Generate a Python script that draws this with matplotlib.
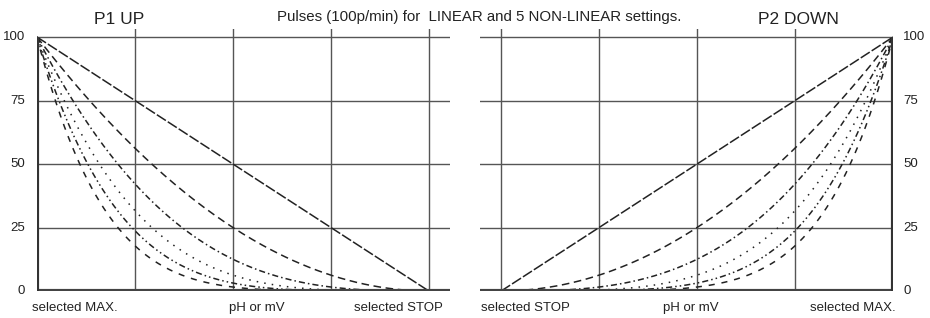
import numpy as np
import matplotlib
matplotlib.use("Agg")
import matplotlib.pyplot as plt

plt.rcParams['font.family'] = ['Liberation Sans', 'DejaVu Sans']

# Dados: posição relativa entre "selected MAX." e "selected STOP"
x = np.linspace(0, 1, 201)
exponents = [1, 2, 3, 4, 5, 6]     # 1 = LINEAR, 2..6 = NON-LINEAR
yticks = [0, 25, 50, 75, 100]
xgrid = [0.25, 0.5, 0.75, 1.0]
left_labels = ["selected MAX.", "pH or mV", "selected STOP"]
right_labels = ["selected STOP", "pH or mV", "selected MAX."]

styles = [
    (0, (7, 1.5)),
    (0, (5, 3)),
    (0, (4, 2, 1, 2)),
    (0, (1, 4)),
    (0, (4, 2, 1, 2, 1, 2)),
    (0, (4, 4.5)),
]

W, H = 930, 318
fig = plt.figure(figsize=(W / 100, H / 100), dpi=100)

def px_axes(l, r, b, t):
    return fig.add_axes([l / W, 1 - b / H, (r - l) / W, (b - t) / H])

axL = px_axes(37, 450, 291, 29.4)
axR = px_axes(480, 893, 291, 29.4)

for ax in (axL, axR):
    ax.set_ylim(0, 103)
    for s in ax.spines.values():
        s.set_visible(False)
    ax.set_xticks([])
    ax.set_yticks([])
    for yv in yticks[1:]:
        ax.axhline(yv, color='#555', lw=1, zorder=1)
    ax.axhline(0, color='#444', lw=3, zorder=3)

# Painel esquerdo: P1 UP
axL.set_xlim(0, 1.054)
for xv in xgrid:
    axL.axvline(xv, color='#555', lw=1, zorder=1)
axL.plot([0, 0], [0, 100], color='#333', lw=3, zorder=3, solid_capstyle='butt')
for n, ls in zip(exponents, styles):
    axL.plot(x, 100 * (1 - x) ** n, color='#222', lw=1.1, linestyle=ls, zorder=2)
for yv in yticks:
    axL.text(-0.03, yv, str(yv), ha='right', va='center', fontsize=9.5,
             color='#222', transform=axL.transData)

# Painel direito: P2 DOWN
axR.set_xlim(-0.054, 1)
for xv in [0.0, 0.25, 0.5, 0.75]:
    axR.axvline(xv, color='#555', lw=1, zorder=1)
axR.plot([1, 1], [0, 100], color='#333', lw=3, zorder=3, solid_capstyle='butt')
for n, ls in zip(exponents, styles):
    axR.plot(x, 100 * x ** n, color='#222', lw=1.1, linestyle=ls, zorder=2)
for yv in yticks:
    axR.text(1.026, yv, str(yv), ha='left', va='center', fontsize=9.5,
             color='#222', transform=axR.transData)

# Títulos
fig.text(119 / W, 1 - 19 / H, "P1 UP", ha='center', va='center', fontsize=12.5, color='#222')
fig.text(798 / W, 1 - 19 / H, "P2 DOWN", ha='center', va='center', fontsize=12.5, color='#222')
fig.text(479 / W, 1 - 17 / H, "Pulses (100p/min) for  LINEAR and 5 NON-LINEAR settings.",
         ha='center', va='center', fontsize=10.8, color='#222')

# Rótulos do eixo x
for lbl, cx in zip(left_labels, [75, 257, 398]):
    fig.text(cx / W, 1 - 308 / H, lbl, ha='center', va='center', fontsize=9.5, color='#222')
for lbl, cx in zip(right_labels, [525, 691, 853]):
    fig.text(cx / W, 1 - 308 / H, lbl, ha='center', va='center', fontsize=9.5, color='#222')

fig.savefig("out.png", dpi=100, facecolor='white')
